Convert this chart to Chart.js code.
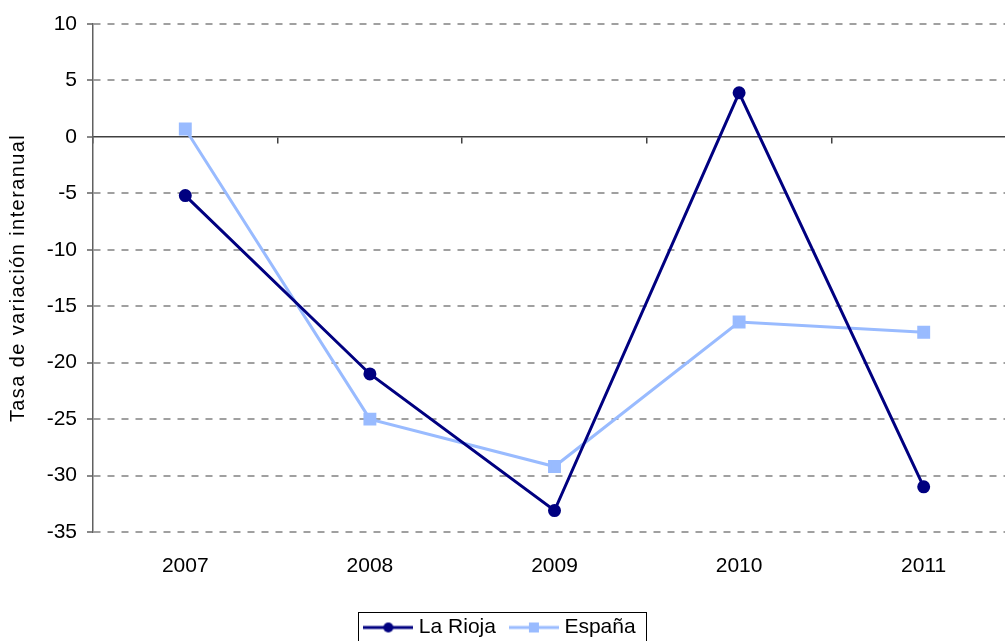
<!DOCTYPE html>
<html>
<head>
<meta charset="utf-8">
<script src="https://cdn.jsdelivr.net/npm/chart.js@4"></script>
<style>
  body { margin: 0; background: #fff; overflow: hidden; }
  #wrap { width: 1048px; height: 648px; margin-left: -22px; }
</style>
</head>
<body>
<div id="wrap"><canvas id="grafico"></canvas></div>
<script>
// datos
const years = ['2007', '2008', '2009', '2010', '2011'];
const laRioja = [-5.2, -21.0, -33.1, 3.9, -31.0];
const espana = [0.7, -25.0, -29.2, -16.4, -17.3];
const yTicks = [10, 5, 0, -5, -10, -15, -20, -25, -30, -35];

const navy = '#000080';
const azul = '#99bbff';
const fuente = 'Liberation Sans, Arial, sans-serif';

// muestra de leyenda: linea con el marcador en medio
function legendSample(color, style) {
  const c = document.createElement('canvas');
  c.width = 50; c.height = 14;
  const g = c.getContext('2d');
  g.strokeStyle = color;
  g.lineWidth = 3;
  g.beginPath(); g.moveTo(0, 7); g.lineTo(50, 7); g.stroke();
  g.fillStyle = color;
  if (style === 'circle') {
    g.beginPath(); g.arc(25, 7, 5, 0, Math.PI * 2); g.fill();
  } else {
    g.fillRect(20, 2, 10, 10);
  }
  return c;
}

// marco alrededor de la leyenda
const legendFrame = {
  id: 'legendFrame',
  afterDraw(chart) {
    const boxes = chart.legend.legendHitBoxes;
    if (!boxes || !boxes.length) return;
    const left = Math.min(...boxes.map(b => b.left)) - 10;
    const right = Math.max(...boxes.map(b => b.left + b.width)) + 11;
    const top = boxes[0].top - 5;
    const ctx = chart.ctx;
    ctx.save();
    ctx.strokeStyle = '#000';
    ctx.lineWidth = 1;
    ctx.strokeRect(Math.round(left) + 0.5, Math.round(top) + 0.5, Math.round(right - left), 80);
    ctx.restore();
  }
};

new Chart(document.getElementById('grafico'), {
  type: 'line',
  data: {
    labels: years,
    datasets: [
      {
        label: 'La Rioja',
        data: laRioja,
        borderColor: navy,
        backgroundColor: navy,
        borderWidth: 3,
        pointStyle: 'circle',
        pointRadius: 5,
        pointHoverRadius: 5,
        tension: 0,
      },
      {
        label: 'España',
        data: espana,
        borderColor: azul,
        backgroundColor: azul,
        borderWidth: 3,
        pointStyle: 'rect',
        pointRadius: 7,
        pointHoverRadius: 7,
        tension: 0,
      },
    ],
  },
  options: {
    responsive: true,
    maintainAspectRatio: false,
    animation: false,
    layout: { padding: { left: 0, right: 0, top: 24, bottom: 0 } },
    plugins: {
      tooltip: { enabled: false },
      legend: {
        position: 'bottom',
        labels: {
          color: '#000',
          font: { family: fuente, size: 21 },
          usePointStyle: true,
          pointStyleWidth: 40,
          boxHeight: 14,
          padding: 18,
          generateLabels(chart) {
            return chart.data.datasets.map((ds, i) => ({
              text: ds.label,
              datasetIndex: i,
              fontColor: '#000',
              lineWidth: 0,
              strokeStyle: 'transparent',
              fillStyle: 'transparent',
              pointStyle: legendSample(ds.borderColor, ds.pointStyle),
            }));
          },
        },
      },
    },
    scales: {
      x: {
        type: 'category',
        offset: true,
        border: { display: false },
        grid: { display: true, drawOnChartArea: false, drawTicks: false, color: 'transparent' },
        afterFit(scale) { scale.height = 67; },
        ticks: {
          color: '#000',
          padding: 22,
          font: { family: fuente, size: 21 },
        },
      },
      // eje horizontal en el cero, con marcas entre categorias
      x0: {
        type: 'category',
        labels: years,
        position: { y: 0 },
        offset: true,
        border: { display: true, color: '#404040', width: 1.5 },
        grid: { drawOnChartArea: false, offset: true, tickLength: 6, color: '#404040', lineWidth: 1.5 },
        ticks: { display: false },
      },
      y: {
        min: -35,
        max: 10,
        afterBuildTicks(scale) {
          scale.ticks = yTicks.map(v => ({ value: v }));
        },
        afterFit(scale) {
          scale.width = 115;
          // titulo algo mas espaciado, como en el original
          if (!scale._tituloEspaciado) {
            const orig = scale.drawTitle.bind(scale);
            scale.drawTitle = function () {
              this.ctx.save();
              this.ctx.letterSpacing = '1.4px';
              orig();
              this.ctx.restore();
            };
            scale._tituloEspaciado = true;
          }
        },
        border: { display: true, color: '#606060', width: 1.5, dash: [7, 7] },
        grid: {
          color: ctx => (ctx.tick && ctx.tick.value === 0 ? 'transparent' : '#a0a0a0'),
          lineWidth: 2,
          tickColor: '#606060',
          tickLength: 6,
          tickWidth: 1.5,
          tickBorderDash: [],
        },
        ticks: {
          color: '#000',
          padding: 10,
          font: { family: fuente, size: 21 },
        },
        title: {
          display: true,
          text: 'Tasa de variación interanual',
          color: '#000',
          font: { family: fuente, size: 20 },
          padding: { top: 28, bottom: 0 },
        },
      },
    },
  },
  plugins: [legendFrame],
});
</script>
</body>
</html>
